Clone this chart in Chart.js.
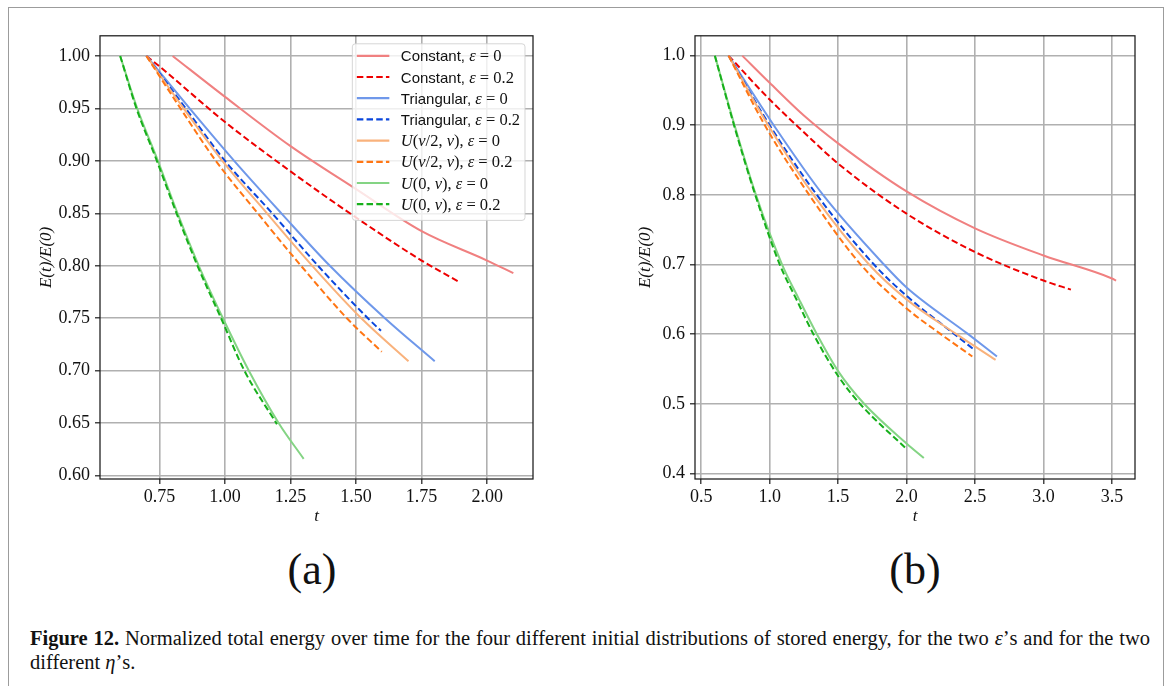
<!DOCTYPE html>
<html lang="en">
<head>
<meta charset="UTF-8">
<title>Figure 12 - normalized total energy</title>
<script src="https://cdn.jsdelivr.net/npm/chart.js"></script>
<style>
  body { margin: 0; width: 1170px; height: 686px; background: #fff; position: relative; overflow: hidden; }
  #frame { position: absolute; left: 8px; top: 7px; width: 1156px; height: 720px; border: 1.5px solid #9c9c9c; box-sizing: border-box; }
  canvas { position: absolute; }
  .panel { position: absolute; top: 540px; width: 100px; margin-left: -50px; text-align: center;
           font-family: "Liberation Serif", serif; font-size: 44px; line-height: 60px; color: #111; }
  .cap { position: absolute; left: 30px; width: 1120px; font-family: "Liberation Serif", serif;
         font-size: 20.5px; line-height: 24px; color: #111; white-space: nowrap; }
  #cap1 { top: 626px; text-align: justify; text-align-last: justify; white-space: normal; }
  #cap2 { top: 650px; }
</style>
</head>
<body>
<div id="frame"></div>
<canvas id="chartA" width="530" height="510" style="left:20px; top:20px"></canvas>
<canvas id="chartB" width="545" height="510" style="left:610px; top:20px"></canvas>
<div class="panel" style="left:312px">(a)</div>
<div class="panel" style="left:915px">(b)</div>
<div class="cap" id="cap1"><b>Figure 12.</b> Normalized total energy over time for the four different initial distributions of stored energy, for the two <i>ε</i>’s and for the two</div>
<div class="cap" id="cap2">different <i>η</i>’s.</div>

<script>
// series, in legend order
const seriesNames = [
  'Constant, ε = 0', 'Constant, ε = 0.2',
  'Triangular, ε = 0', 'Triangular, ε = 0.2',
  'U(ν/2, ν), ε = 0', 'U(ν/2, ν), ε = 0.2',
  'U(0, ν), ε = 0', 'U(0, ν), ε = 0.2'
];
const seriesColors = ['#f08080', '#ee0000', '#6f98ea', '#0a46dc', '#f9b27c', '#ff7614', '#84d484', '#17b01b'];
const seriesDashed = [false, true, false, true, false, true, false, true];

// panel (a): time t and E(t)/E(0)
const tA = [
  [0.80, 1.00, 1.25, 1.50, 1.75, 2.00, 2.10],
  [0.70, 0.75, 1.00, 1.25, 1.50, 1.75, 1.89],
  [0.70, 0.865, 1.035, 1.215, 1.40, 1.61, 1.80],
  [0.70, 0.85, 1.00, 1.18, 1.355, 1.545, 1.595],
  [0.70, 0.842, 0.99, 1.16, 1.333, 1.52, 1.70],
  [0.70, 0.83, 0.965, 1.125, 1.29, 1.465, 1.598],
  [0.60, 0.665, 0.744, 0.819, 0.90, 0.992, 1.091, 1.205, 1.30],
  [0.60, 0.662, 0.740, 0.815, 0.895, 0.985, 1.074, 1.198]
];
const eA = [
  [1.000, 0.961, 0.914, 0.873, 0.833, 0.805, 0.793],
  [1.000, 0.990, 0.937, 0.890, 0.846, 0.805, 0.785],
  [1.00, 0.95, 0.90, 0.85, 0.80, 0.75, 0.709],
  [1.00, 0.95, 0.90, 0.85, 0.80, 0.75, 0.738],
  [1.00, 0.95, 0.90, 0.85, 0.80, 0.75, 0.709],
  [1.00, 0.95, 0.90, 0.85, 0.80, 0.75, 0.718],
  [1.00, 0.95, 0.90, 0.85, 0.80, 0.75, 0.70, 0.65, 0.616],
  [1.00, 0.95, 0.90, 0.85, 0.80, 0.75, 0.70, 0.649]
];

// panel (b)
const tB = [
  [0.80, 1.00, 1.25, 1.50, 2.00, 2.50, 3.00, 3.50, 3.53],
  [0.70, 1.00, 1.25, 1.50, 2.00, 2.50, 3.00, 3.20],
  [0.70, 1.03, 1.39, 1.835, 2.00, 2.45, 2.66],
  [0.70, 1.00, 1.345, 1.762, 2.00, 2.35, 2.498],
  [0.70, 0.99, 1.32, 1.726, 2.00, 2.364, 2.65],
  [0.70, 0.965, 1.289, 1.665, 2.00, 2.25, 2.48],
  [0.60, 0.744, 0.90, 1.091, 1.215, 1.345, 1.50, 1.69, 2.00, 2.126],
  [0.60, 0.740, 0.895, 1.074, 1.198, 1.32, 1.50, 1.66, 2.00]
];
const eB = [
  [1.000, 0.961, 0.914, 0.874, 0.805, 0.752, 0.713, 0.680, 0.677],
  [1.000, 0.937, 0.890, 0.845, 0.773, 0.718, 0.677, 0.664],
  [1.00, 0.90, 0.80, 0.70, 0.667, 0.60, 0.568],
  [1.00, 0.90, 0.80, 0.70, 0.655, 0.60, 0.577],
  [1.00, 0.90, 0.80, 0.70, 0.650, 0.60, 0.563],
  [1.00, 0.90, 0.80, 0.70, 0.637, 0.60, 0.568],
  [1.00, 0.90, 0.80, 0.70, 0.65, 0.60, 0.547, 0.50, 0.443, 0.422],
  [1.00, 0.90, 0.80, 0.70, 0.649, 0.60, 0.540, 0.50, 0.435]
];

// tick values
const xTicksA = [0.75, 1.00, 1.25, 1.50, 1.75, 2.00];
const yTicksA = [0.60, 0.65, 0.70, 0.75, 0.80, 0.85, 0.90, 0.95, 1.00];
const xTicksB = [0.5, 1.0, 1.5, 2.0, 2.5, 3.0, 3.5];
const yTicksB = [0.4, 0.5, 0.6, 0.7, 0.8, 0.9, 1.0];

const TICK_FONT = { family: "'Liberation Serif'", size: 18 };
const TITLE_FONT = { family: "'Liberation Serif'", size: 17, style: 'italic' };
const SANS = '15px "Liberation Sans"';
const IT = 'italic 16.5px "Liberation Serif"';
const RM = '16.5px "Liberation Serif"';

function buildDatasets(ts, es) {
  return seriesNames.map((name, i) => ({
    label: name,
    data: ts[i].map((t, k) => ({ x: t, y: es[i][k] })),
    borderColor: seriesColors[i],
    borderWidth: 2,
    borderDash: seriesDashed[i] ? [6.5, 3.2] : [],
    pointRadius: 0,
    cubicInterpolationMode: 'monotone',
    fill: false,
    order: 8 - i
  }));
}

// black box round the plot area
const framePlugin = {
  id: 'frame',
  afterDatasetsDraw(chart) {
    const { ctx, chartArea: a } = chart;
    ctx.save();
    ctx.strokeStyle = '#1a1a1a';
    ctx.lineWidth = 1.25;
    ctx.strokeRect(a.left, a.top, a.right - a.left, a.bottom - a.top);
    ctx.restore();
  }
};

// split a legend label into text / math pieces
function labelParts(label) {
  const parts = [];
  let rest = label;
  const m = label.match(/^[A-Za-z]+, /);
  if (m) { parts.push([m[0], SANS]); rest = label.slice(m[0].length); }
  for (const ch of rest) parts.push([ch, 'Uεν'.includes(ch) ? IT : RM]);
  return parts;
}

const legendPlugin = {
  id: 'innerLegend',
  afterDraw(chart) {
    const { ctx, chartArea: a } = chart;
    const rowH = 21.2;
    ctx.save();
    let maxW = 0;
    const rows = seriesNames.map(n => {
      const p = labelParts(n);
      let w = 0;
      p.forEach(([s, f]) => { ctx.font = f; w += ctx.measureText(s).width; });
      maxW = Math.max(maxW, w);
      return p;
    });
    const boxW = 48.5 + maxW + 5;
    const boxH = rows.length * rowH + 7;
    const x0 = a.right - 8 - boxW, y0 = a.top + 8;
    ctx.beginPath();
    ctx.roundRect(x0, y0, boxW, boxH, 3);
    ctx.fillStyle = 'rgba(255,255,255,0.8)';
    ctx.fill();
    ctx.strokeStyle = 'rgba(204,204,204,0.8)';
    ctx.lineWidth = 1;
    ctx.stroke();
    rows.forEach((p, i) => {
      const cy = y0 + 12 + i * rowH;
      ctx.beginPath();
      ctx.setLineDash(seriesDashed[i] ? [6.5, 3.2] : []);
      ctx.strokeStyle = seriesColors[i];
      ctx.lineWidth = 2.2;
      ctx.moveTo(x0 + 4.5, cy);
      ctx.lineTo(x0 + 37, cy);
      ctx.stroke();
      ctx.setLineDash([]);
      let x = x0 + 48.5;
      ctx.fillStyle = '#111';
      ctx.textBaseline = 'alphabetic';
      p.forEach(([s, f]) => {
        ctx.font = f;
        ctx.fillText(s, x, cy + 5.5);
        x += ctx.measureText(s).width;
      });
    });
    ctx.restore();
  }
};

function makeChart(id, ts, es, opt) {
  return new Chart(document.getElementById(id), {
    type: 'line',
    data: { datasets: buildDatasets(ts, es) },
    options: {
      responsive: false,
      animation: false,
      layout: { padding: { top: 14, right: opt.padRight, left: 0, bottom: 0 } },
      plugins: { legend: { display: false }, tooltip: { enabled: false } },
      scales: {
        x: {
          type: 'linear',
          min: opt.xMin, max: opt.xMax,
          afterBuildTicks: s => { s.ticks = opt.xTicks.map(v => ({ value: v })); },
          afterFit: s => { s.height = 51; },
          ticks: { font: TICK_FONT, color: '#111', padding: 2, maxRotation: 0,
                   callback: v => v.toFixed(opt.xDec) },
          grid: { color: '#b0b0b0', lineWidth: 1.6, tickColor: '#1a1a1a', tickLength: 5, tickWidth: 1.2 },
          border: { display: false },
          title: { display: true, text: 't', font: TITLE_FONT, color: '#111', padding: { top: 0, bottom: 3 } }
        },
        y: {
          min: opt.yMin, max: opt.yMax,
          afterBuildTicks: s => { s.ticks = opt.yTicks.map(v => ({ value: v })); },
          afterFit: s => { s.width = opt.yWidth; },
          ticks: { font: TICK_FONT, color: '#111', padding: 5,
                   callback: v => v.toFixed(opt.yDec) },
          grid: { color: '#b0b0b0', lineWidth: 1.6, tickColor: '#1a1a1a', tickLength: 5, tickWidth: 1.2 },
          border: { display: false },
          title: { display: true, text: 'E(t)/E(0)', font: TITLE_FONT, color: '#111', padding: { top: opt.yTitlePad, bottom: 0 } }
        }
      }
    },
    plugins: opt.legend ? [framePlugin, legendPlugin] : [framePlugin]
  });
}

makeChart('chartA', tA, eA, {
  xMin: 0.523, xMax: 2.175, yMin: 0.5968, yMax: 1.0192,
  xTicks: xTicksA, yTicks: yTicksA, xDec: 2, yDec: 2,
  yWidth: 80, padRight: 17, yTitlePad: 16, legend: true
});
makeChart('chartB', tB, eB, {
  xMin: 0.455, xMax: 3.668, yMin: 0.392, yMax: 1.0285,
  xTicks: xTicksB, yTicks: yTicksB, xDec: 1, yDec: 1,
  yWidth: 85, padRight: 20, yTitlePad: 25, legend: false
});
</script>
</body>
</html>
